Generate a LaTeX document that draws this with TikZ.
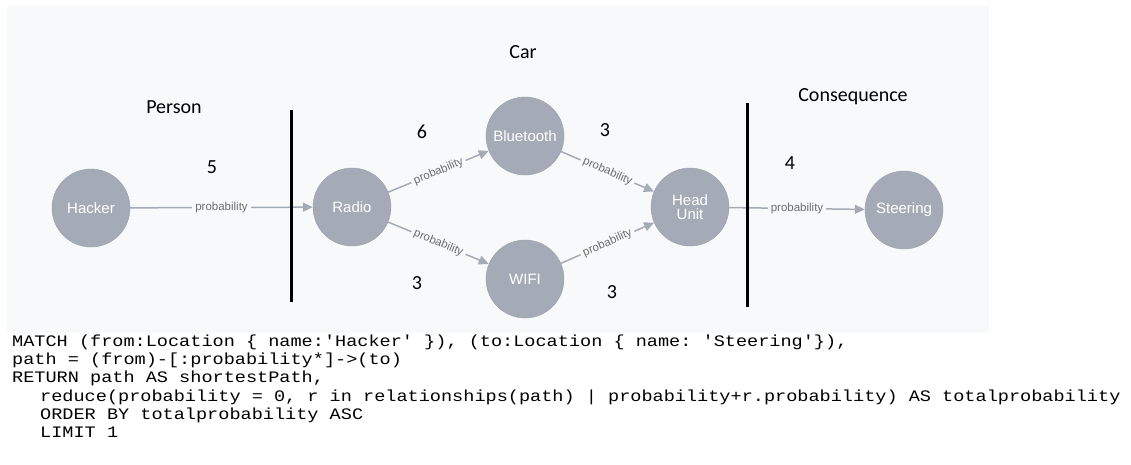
\documentclass[tikz,border=0pt]{standalone}
\usepackage{fontspec}
\setmainfont{Liberation Sans}
\setmonofont{Liberation Mono}[FakeStretch=1.16]
\newfontfamily\labelfont{Carlito}
\usetikzlibrary{arrows.meta}
\definecolor{nodegrey}{HTML}{A5ABB6}
\definecolor{nodeborder}{HTML}{9AA1AC}
\definecolor{canvas}{HTML}{F8F9FB}
\definecolor{reltext}{HTML}{6E6E6E}

\begin{document}
\begin{tikzpicture}[x=1pt,y=-1pt]
	\tikzstyle{vertex} = [circle,fill=nodegrey,draw=nodeborder,minimum size=78pt,inner sep=0pt,text=white,align=center,font=\fontsize{15}{14}\selectfont]
	\tikzstyle{rel} = [-{Triangle[length=10pt,width=9pt]},draw=nodegrey,line width=1.5pt]
	\tikzstyle{relname} = [midway,fill=canvas,inner xsep=3pt,inner ysep=1pt,text=reltext,font=\fontsize{11.5}{11.5}\selectfont]
	\tikzstyle{divider} = [-,draw=black,line width=3pt]
	\tikzstyle{group} = [font=\labelfont\fontsize{20}{20}\selectfont]
	\tikzstyle{code} = [anchor=base west,inner sep=0pt,font=\ttfamily\fontsize{16}{18}\selectfont]

	\useasboundingbox (0,0) rectangle (1131,464);
	\fill[white] (0,0) rectangle (1131,464);
	\fill[canvas] (7,6) rectangle (989,333);

	% group titles
	\node[group] (person) at (174,107) {Person};
	\node[group] (car) at (523,52) {Car};
	\node[group] (conseq) at (853,97) {Consequence};

	% locations
	\node[vertex] (hacker) at (91,208) {Hacker};
	\node[vertex] (radio) at (352,207) {Radio};
	\node[vertex] (bt) at (525,136) {Bluetooth};
	\node[vertex] (wifi) at (525,279) {WIFI};
	\node[vertex] (hu) at (690,207) {Head\\Unit};
	\node[vertex] (steer) at (904,210) {Steering};

	\draw[rel] (hacker) -- node[relname] {probability} (radio);
	\draw[rel] (radio) -- node[relname,sloped] {probability} (bt);
	\draw[rel] (radio) -- node[relname,sloped] {probability} (wifi);
	\draw[rel] (bt) -- node[relname,sloped] {probability} (hu);
	\draw[rel] (wifi) -- node[relname,sloped] {probability} (hu);
	\draw[rel] (hu) -- node[relname] {probability} (steer);

	% weights
	\node[group] (w1) at (212,167) {5};
	\node[group] (w2) at (422,132) {6};
	\node[group] (w3) at (417,283) {3};
	\node[group] (w4) at (605,130) {3};
	\node[group] (w5) at (612,292) {3};
	\node[group] (w6) at (790,163) {4};

	% borders between the groups
	\coordinate (d1a) at (291,110);
	\coordinate (d1b) at (291,302);
	\coordinate (d2a) at (747,103);
	\coordinate (d2b) at (747,307);
	\draw[divider] (d1a) -- (d1b);
	\draw[divider] (d2a) -- (d2b);

	% query
	\node[code] (q1) at (12,346.5) {MATCH (from:Location \{ name:'Hacker' \}), (to:Location \{ name: 'Steering'\}),};
	\node[code] (q2) at (12,364.7) {path = (from)-[:probability*]->(to)};
	\node[code] (q3) at (12,382.9) {RETURN path AS shortestPath,};
	\node[code] (q4) at (40,401.1) {reduce(probability = 0, r in relationships(path) | probability+r.probability) AS totalprobability};
	\node[code] (q5) at (40,419.3) {ORDER BY totalprobability ASC};
	\node[code] (q6) at (40,437.5) {LIMIT 1};
\end{tikzpicture}
\end{document}
